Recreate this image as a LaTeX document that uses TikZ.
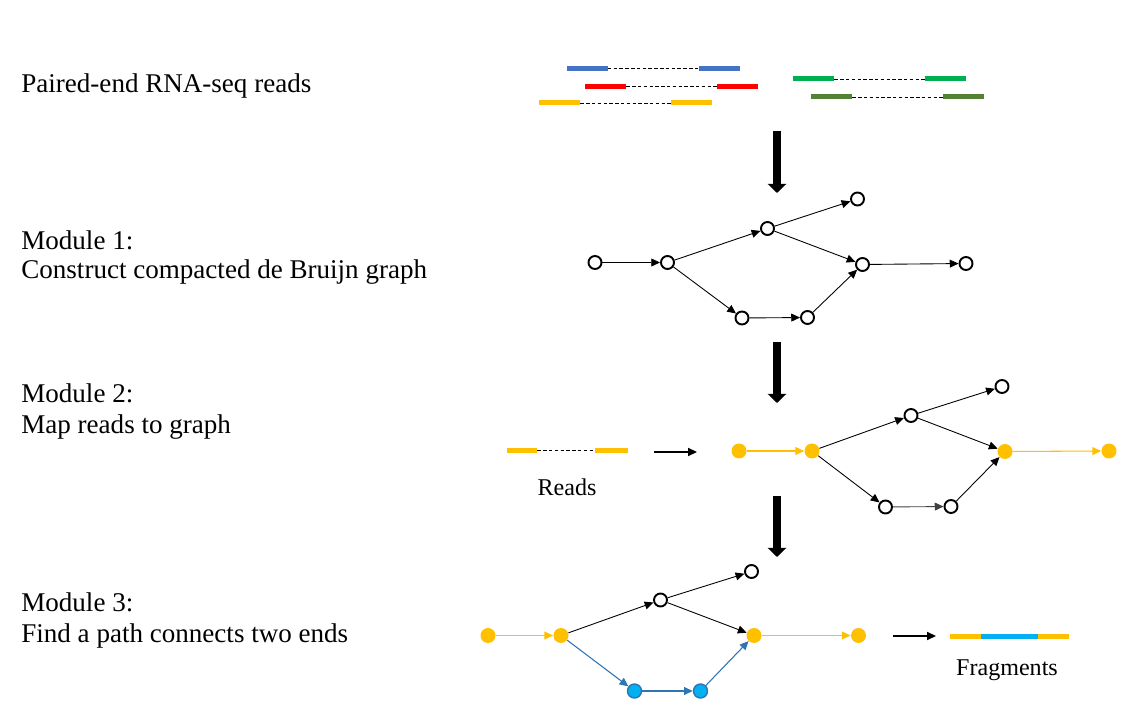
\documentclass[tikz,border=0pt]{standalone}
\usepackage{fontspec}
\setmainfont{Liberation Serif}
\usetikzlibrary{arrows.meta}
\definecolor{readblue}{HTML}{4472C4}
\definecolor{readred}{HTML}{FF0000}
\definecolor{readyellow}{HTML}{FFC000}
\definecolor{readgreen}{HTML}{00B050}
\definecolor{readdkgreen}{HTML}{548235}
\definecolor{pathcyan}{HTML}{00B0F0}
\definecolor{pathblue}{HTML}{2E75B6}
\tikzset{
  vtx/.style={circle, draw, line width=1.1pt, fill=white, minimum size=0.26cm, inner sep=0pt},
  yvtx/.style={circle, fill=readyellow, minimum size=0.3cm, inner sep=0pt},
  bvtx/.style={circle, fill=pathcyan, draw=pathblue, line width=0.8pt, minimum size=0.28cm, inner sep=0pt},
  edge/.style={-{Triangle[length=5pt,width=4.5pt]}, line width=0.5pt},
  yedge/.style={edge, draw=readyellow, fill=readyellow, line width=0.6pt},
  bedge/.style={edge, draw=pathblue, fill=pathblue, line width=0.6pt},
  bigarrow/.style={line width=0.16cm, -{Triangle[width=0.36cm,length=0.18cm]}},
  smallarrow/.style={line width=0.9pt, -{Triangle[length=5pt,width=4.5pt]}},
  bar/.style={rectangle, inner sep=0pt, minimum width=0.82cm, minimum height=0.1cm},
  pairline/.style={dashed, line width=0.5pt, dash pattern=on 2pt off 1.3pt},
  title/.style={anchor=base west, inner sep=0pt, font=\fontsize{15.4}{18}\selectfont},
  caption/.style={anchor=base, inner sep=0pt, font=\fontsize{13.7}{16}\selectfont}
}
\begin{document}
\begin{tikzpicture}[x=0.02cm,y=-0.02cm]
  \useasboundingbox (0,0) rectangle (1137,722);

  % labels on the left
  \node[title] (t0) at (21,93) {Paired-end RNA-seq reads};
  \node[title] (t1) at (21,250) {Module 1:};
  \node[title] (t1b) at (21,279) {Construct compacted de Bruijn graph};
  \node[title] (t2) at (21,403) {Module 2:};
  \node[title] (t2b) at (21,434) {Map reads to graph};
  \node[title] (t3) at (21,612) {Module 3:};
  \node[title] (t3b) at (21,643) {Find a path connects two ends};

  % paired-end reads
  \node[bar, fill=readblue] (r1a) at (587,68.5) {};
  \node[bar, fill=readblue] (r1b) at (719.5,68.5) {};
  \node[bar, fill=readred] (r2a) at (605.5,86.5) {};
  \node[bar, fill=readred] (r2b) at (737.5,86.5) {};
  \node[bar, fill=readyellow] (r3a) at (559.5,103) {};
  \node[bar, fill=readyellow] (r3b) at (691.5,103) {};
  \node[bar, fill=readgreen] (r4a) at (813.5,79) {};
  \node[bar, fill=readgreen] (r4b) at (945.5,79) {};
  \node[bar, fill=readdkgreen] (r5a) at (831.5,97) {};
  \node[bar, fill=readdkgreen] (r5b) at (963.5,97) {};
  \draw[pairline] (r1a) -- (r1b);
  \draw[pairline] (r2a) -- (r2b);
  \draw[pairline] (r3a) -- (r3b);
  \draw[pairline] (r4a) -- (r4b);
  \draw[pairline] (r5a) -- (r5b);

  % big arrows between steps
  \coordinate (s1) at (777,131);
  \coordinate (e1) at (777,193);
  \coordinate (s2) at (777,342);
  \coordinate (e2) at (777,403);
  \coordinate (s3) at (777,496);
  \coordinate (e3) at (777,557);
  \draw[bigarrow] (s1) -- (e1);
  \draw[bigarrow] (s2) -- (e2);
  \draw[bigarrow] (s3) -- (e3);

  % module 1
  \node[vtx] (a1) at (595,262.5) {};
  \node[vtx] (b1) at (667.5,262.5) {};
  \node[vtx] (c1) at (767.5,228.5) {};
  \node[vtx] (d1) at (857.5,199) {};
  \node[vtx] (e1n) at (862.5,264.5) {};
  \node[vtx] (f1) at (966,263.5) {};
  \node[vtx] (g1) at (742,318) {};
  \node[vtx] (h1) at (807.5,317.5) {};
  \draw[edge] (a1) -- (b1);
  \draw[edge] (b1) -- (c1);
  \draw[edge] (b1) -- (g1);
  \draw[edge] (c1) -- (d1);
  \draw[edge] (c1) -- (e1n);
  \draw[edge] (g1) -- (h1);
  \draw[edge] (h1) -- (e1n);
  \draw[edge] (e1n) -- (f1);

  % module 2
  \node[bar, fill=readyellow, minimum width=0.6cm] (rda) at (522,450.5) {};
  \node[bar, fill=readyellow, minimum width=0.66cm] (rdb) at (611.5,450.5) {};
  \draw[pairline] (rda) -- (rdb);
  \node[caption] (rdt) at (567,496) {Reads};
  \coordinate (m2s) at (654,452);
  \coordinate (m2e) at (697,452);
  \draw[smallarrow] (m2s) -- (m2e);
  \node[yvtx] (a2) at (739,451) {};
  \node[yvtx] (b2) at (812,451) {};
  \node[vtx] (c2) at (911,415.5) {};
  \node[vtx] (d2) at (1002,386.5) {};
  \node[yvtx] (e2n) at (1005,451.5) {};
  \node[yvtx] (f2) at (1109,451) {};
  \node[vtx] (g2) at (885.5,507) {};
  \node[vtx] (h2) at (951,506.5) {};
  \draw[yedge] (a2) -- (b2);
  \draw[edge] (b2) -- (c2);
  \draw[edge] (b2) -- (g2);
  \draw[edge] (c2) -- (d2);
  \draw[edge] (c2) -- (e2n);
  \draw[edge, draw=black!75] (g2) -- (h2);
  \draw[edge] (h2) -- (e2n);
  \draw[yedge] (e2n) -- (f2);

  % module 3
  \node[yvtx] (a3) at (488,635.5) {};
  \node[yvtx] (b3) at (561,635.5) {};
  \node[vtx] (c3) at (660.5,600) {};
  \node[vtx] (d3) at (751.5,571.5) {};
  \node[yvtx] (e3n) at (754,635.5) {};
  \node[yvtx] (f3) at (858.5,635.5) {};
  \node[bvtx] (g3) at (634.5,691) {};
  \node[bvtx] (h3) at (700.5,691) {};
  \draw[yedge] (a3) -- (b3);
  \draw[edge] (b3) -- (c3);
  \draw[bedge] (b3) -- (g3);
  \draw[edge] (c3) -- (d3);
  \draw[edge] (c3) -- (e3n);
  \draw[bedge] (g3) -- (h3);
  \draw[bedge] (h3) -- (e3n);
  \draw[yedge] (e3n) -- (f3);
  \coordinate (m3s) at (893,636);
  \coordinate (m3e) at (936,636);
  \draw[smallarrow] (m3s) -- (m3e);
  \node[bar, fill=readyellow, minimum width=0.62cm] (fa) at (965.5,636.5) {};
  \node[bar, fill=pathcyan, minimum width=1.14cm] (fb) at (1009.5,636.5) {};
  \node[bar, fill=readyellow, minimum width=0.62cm] (fc) at (1053.5,636.5) {};
  \node[caption] (fgt) at (1007,676) {Fragments};
\end{tikzpicture}
\end{document}
